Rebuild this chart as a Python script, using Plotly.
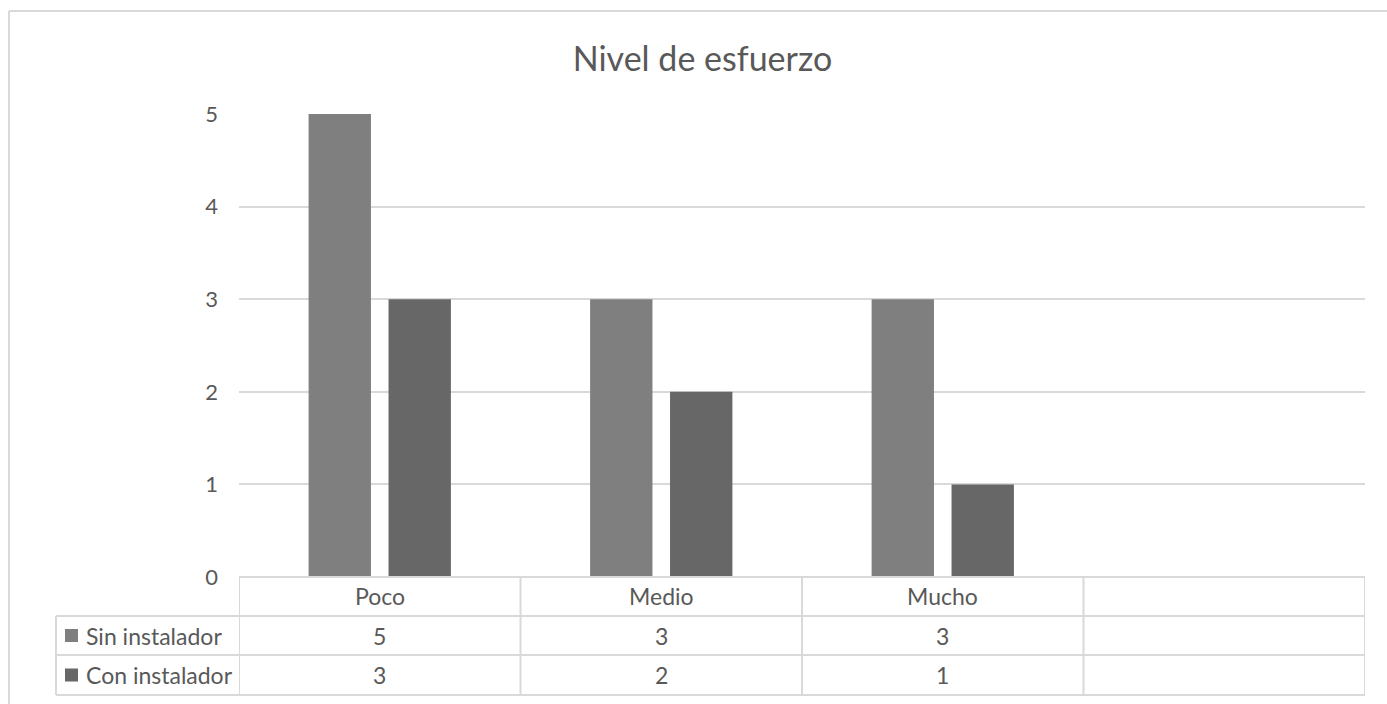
import plotly.graph_objects as go

# ---------------- data ----------------
title_text = "Nivel de esfuerzo"
categories = ["Poco", "Medio", "Mucho"]
series_names = ["Sin instalador", "Con instalador"]
sin_instalador = [5, 3, 3]
con_instalador = [3, 2, 1]
y_ticks = [0, 1, 2, 3, 4, 5]

# ---------------- style / layout ----------------
W, H = 1387, 704
L, R, T, B = 239, 22, 114, 127
plot_w = W - L - R
plot_h = H - T - B
colors = ["#7f7f7f", "#676767"]
grid = "#d9d9d9"
txt = "#595959"
FONT = "Lato"
n_cols = len(categories) + 1  # Excel leaves one empty column


def py(p):
    return (H - B - p) / plot_h


def px(p):
    return (p - L) / plot_w


series_values = [sin_instalador, con_instalador]

fig = go.Figure()
for name, vals, col in zip(series_names, series_values, colors):
    fig.add_trace(go.Bar(x=categories, y=vals, name=name, marker=dict(color=col, line=dict(width=0))))

shapes = []
line = dict(color=grid, width=2)
# outer chart border (left and top visible)
shapes.append(dict(type="line", xref="paper", yref="paper", x0=px(9), x1=px(9),
                   y0=py(H), y1=py(11), line=line, layer="below"))
shapes.append(dict(type="line", xref="paper", yref="paper", x0=px(9), x1=px(W),
                   y0=py(11), y1=py(11), line=line, layer="below"))
# table horizontal lines
shapes.append(dict(type="line", xref="x", yref="paper", x0=-0.5, x1=n_cols - 0.5,
                   y0=py(577), y1=py(577), line=line))
for yy in [616, 655, 695]:
    shapes.append(dict(type="line", xref="paper", yref="paper", x0=px(56), x1=1,
                       y0=py(yy), y1=py(yy), line=line))
# table vertical lines
shapes.append(dict(type="line", xref="paper", yref="paper", x0=px(56), x1=px(56),
                   y0=py(616), y1=py(695), line=line))
for i in range(n_cols + 1):
    shapes.append(dict(type="line", xref="x", yref="paper", x0=i - 0.5, x1=i - 0.5,
                       y0=py(577), y1=py(695), line=line))
# legend keys
row_centers = [635.5, 675]
for rc, col in zip(row_centers, colors):
    shapes.append(dict(type="rect", xref="paper", yref="paper", x0=px(65), x1=px(78),
                       y0=py(rc + 6.5), y1=py(rc - 6.5), fillcolor=col, line=dict(width=0)))

annotations = []
font = dict(family=FONT, size=23, color=txt)
for c in categories:
    annotations.append(dict(x=c, y=py(596), xref="x", yref="paper", text=c, showarrow=False,
                            font=font, xanchor="center", yanchor="middle"))
for rc, name, vals in zip(row_centers, series_names, series_values):
    annotations.append(dict(x=px(84), y=py(rc), xref="paper", yref="paper", text=name,
                            showarrow=False, font=font, xanchor="left", yanchor="middle"))
    for c, v in zip(categories, vals):
        annotations.append(dict(x=c, y=py(rc), xref="x", yref="paper", text=str(v),
                                showarrow=False, font=font, xanchor="center", yanchor="middle"))

fig.update_layout(
    width=W, height=H,
    margin=dict(l=L, r=R, t=T, b=B, pad=0),
    paper_bgcolor="white", plot_bgcolor="white",
    showlegend=False,
    barmode="group", bargap=0.432, bargroupgap=0.22,
    title=dict(text=title_text, x=702.5 / W, y=1 - 59 / H, xref="container", yref="container",
               xanchor="center", yanchor="middle",
               font=dict(family=FONT, size=34, color=txt)),
    xaxis=dict(type="category", range=[-0.5, n_cols - 0.5], showticklabels=False,
               showgrid=False, zeroline=False, showline=False, fixedrange=True),
    yaxis=dict(range=[0, 5], tickvals=y_ticks, showgrid=True, gridcolor=grid, gridwidth=2,
               zeroline=False, showline=False, ticklabelstandoff=20,
               tickfont=dict(family=FONT, size=22, color=txt)),
    shapes=shapes,
    annotations=annotations,
)

fig.write_html("out.html")
